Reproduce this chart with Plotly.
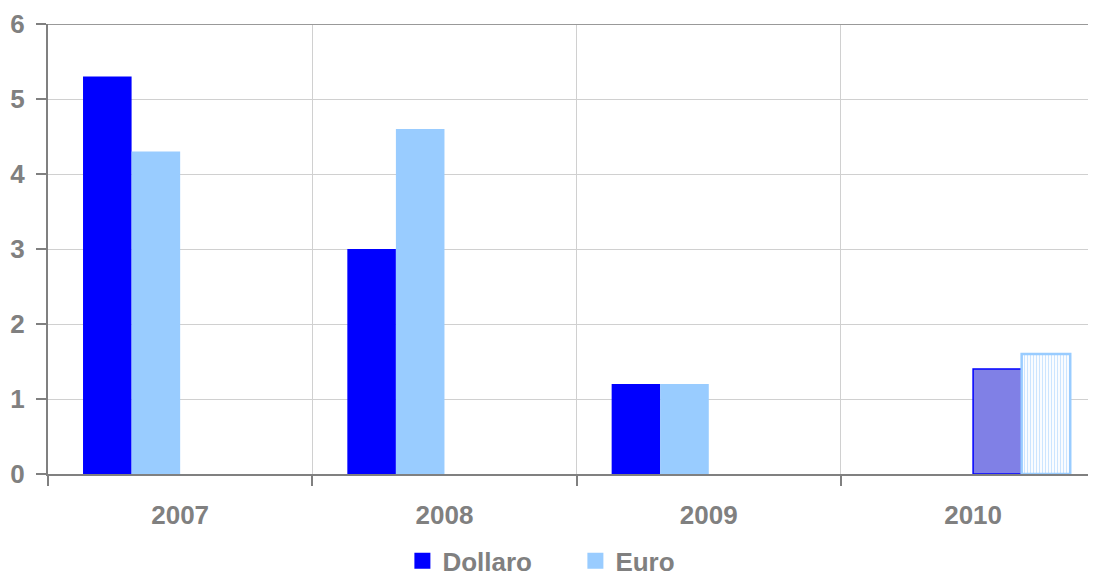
import plotly.graph_objects as go

years = ["2007", "2008", "2009", "2010"]
dollaro = [5.3, 3.0, 1.2, None]
euro = [4.3, 4.6, 1.2, None]
dollaro_prev = [None, None, None, 1.4]
euro_prev = [None, None, None, 1.6]
y_ticks = [0, 1, 2, 3, 4, 5, 6]

FONT = "Liberation Sans, Arial, sans-serif"
GRAY = "#808080"
FS = 26
C_DOL = "#0000FF"
C_EUR = "#99CCFF"

fig = go.Figure()
fig.add_trace(go.Bar(x=years, y=dollaro, name="Dollaro", legendgroup="d", showlegend=False,
                     marker=dict(color=C_DOL, line=dict(width=0))))
fig.add_trace(go.Bar(x=years, y=euro, name="Euro", legendgroup="e", showlegend=False,
                     marker=dict(color=C_EUR, line=dict(width=0))))
fig.add_trace(go.Bar(x=years, y=dollaro_prev, name="Dollaro (prev.)", legendgroup="d", showlegend=False,
                     marker=dict(color="#8080E6", line=dict(color=C_DOL, width=1.5))))
fig.add_trace(go.Bar(x=years, y=euro_prev, name="Euro (prev.)", legendgroup="e", showlegend=False,
                     marker=dict(color="white", line=dict(color=C_EUR, width=2.5),
                                 pattern=dict(shape="|", fgcolor=C_EUR, bgcolor="white",
                                              size=3, solidity=0.4))))
# legend entries with larger square swatches
for name, col, grp in [("Dollaro", C_DOL, "d"), ("Euro", C_EUR, "e")]:
    fig.add_trace(go.Scatter(x=[None], y=[None], mode="markers", name=name, legendgroup=grp,
                             marker=dict(symbol="square", size=16, color=col),
                             hoverinfo="skip"))

# page body has an 8px margin; compensate so the plot lands where the reference has it
fig.update_layout(
    width=1088, height=569,
    margin=dict(l=40, r=0, t=16, b=103, autoexpand=False),
    paper_bgcolor="white", plot_bgcolor="white",
    barmode="group", bargap=0.265, bargroupgap=0,
    font=dict(family=FONT, size=FS, color=GRAY),
    showlegend=True,
    legend=dict(orientation="h", xref="container", yref="paper",
                x=0.5215, xanchor="center", y=-0.193, yanchor="middle",
                font=dict(family=FONT, size=FS, color=GRAY, weight="bold"),
                entrywidth=128, entrywidthmode="pixels",
                itemwidth=30, tracegroupgap=0, groupclick="toggleitem"),
    xaxis=dict(type="category", range=[-0.5, 3.465], tickson="boundaries",
               showgrid=True, gridcolor="#D0D0D0", gridwidth=1,
               showline=True, linecolor=GRAY, linewidth=2,
               ticks="outside", ticklen=10, tickcolor=GRAY, tickwidth=1.5,
               ticklabelstandoff=17,
               tickfont=dict(family=FONT, size=FS, color=GRAY, weight="bold")),
    yaxis=dict(range=[0, 6], tickvals=y_ticks, showgrid=True, gridcolor="#D0D0D0", gridwidth=1,
               showline=True, linecolor=GRAY, linewidth=2, zeroline=False,
               ticks="outside", ticklen=10, tickcolor=GRAY, tickwidth=1.5,
               ticklabelstandoff=6,
               tickfont=dict(family=FONT, size=FS, color=GRAY, weight="bold")),
)
fig.add_shape(type="line", xref="paper", yref="y", x0=0, x1=1, y0=6, y1=6,
              line=dict(color="#999999", width=2))

fig.write_html("out.html")
